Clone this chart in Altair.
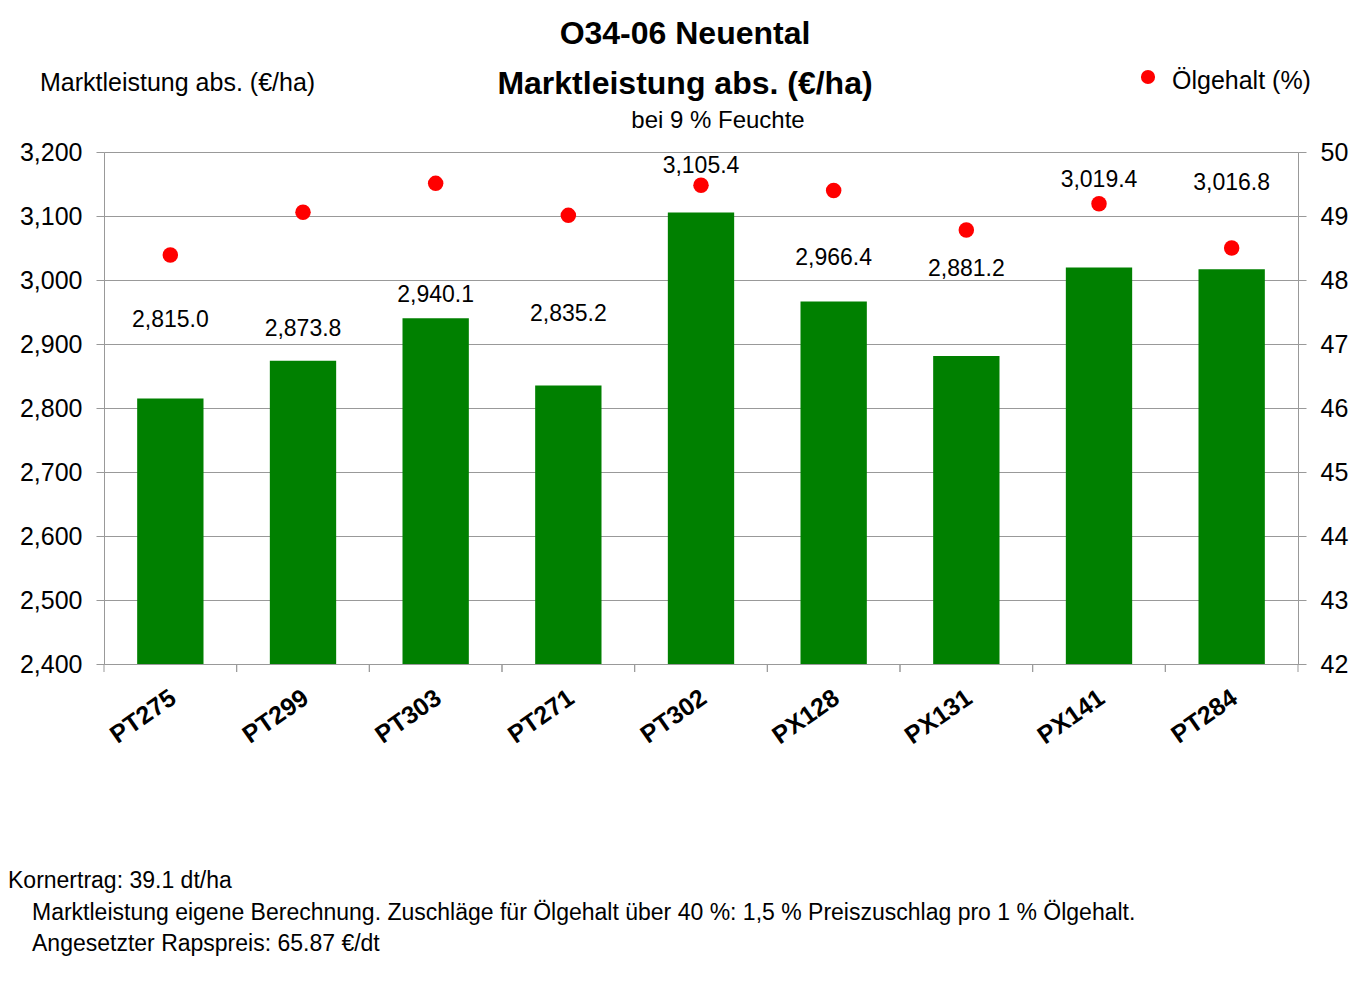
import altair as alt
import pandas as pd

# ---- data ----
sorten = ["PT275", "PT299", "PT303", "PT271", "PT302", "PX128", "PX131", "PX141", "PT284"]
marktleistung = [2815.0, 2873.8, 2940.1, 2835.2, 3105.4, 2966.4, 2881.2, 3019.4, 3016.8]
oelgehalt = [48.39, 49.06, 49.51, 49.01, 49.48, 49.40, 48.78, 49.19, 48.50]
left_ticks = [2400, 2500, 2600, 2700, 2800, 2900, 3000, 3100, 3200]
right_ticks = [42, 43, 44, 45, 46, 47, 48, 49, 50]

title1 = "O34-06 Neuental"
title2 = "Marktleistung abs. (€/ha)"
subtitle = "bei 9 % Feuchte"
left_title = "Marktleistung abs. (€/ha)"
legend_label = "Ölgehalt (%)"
notes = [
    "Kornertrag: 39.1 dt/ha",
    "Marktleistung eigene Berechnung. Zuschläge für Ölgehalt über 40 %: 1,5 % Preiszuschlag pro 1 % Ölgehalt.",
    "Angesetzter Rapspreis: 65.87 €/dt",
]

# ---- layout (label placement above the bars, in €/ha, as in the original) ----
label_offset = [122, 50, 37, 112, 72, 68, 136, 137, 134]

FONT = "Liberation Sans"
GRAY = "#999999"
W, H = 1194, 512

df = pd.DataFrame({"Sorte": sorten, "Marktleistung": marktleistung,
                   "Oel": oelgehalt, "off": label_offset})

yL = alt.Scale(domain=[left_ticks[0], left_ticks[-1]], nice=False, zero=False)
yR = alt.Scale(domain=[right_ticks[0], right_ticks[-1]], nice=False, zero=False)

x_enc = alt.X(
    "Sorte:N", sort=sorten,
    scale=alt.Scale(paddingInner=0, paddingOuter=0),
    axis=alt.Axis(title=None, labelAngle=-35, labelFont=FONT, labelFontSize=25,
                  labelFontWeight="bold", labelColor="black", ticks=False, tickSize=0,
                  labelPadding=21, labelOffset=-4, domainColor=GRAY, labelAlign="right",
                  labelBaseline="top"),
)

base = alt.Chart(df)

bars = base.mark_bar(color="#008000", width=alt.RelativeBandSize(0.5), clip=True).encode(
    x=x_enc,
    y=alt.Y("Marktleistung:Q", scale=yL,
            axis=alt.Axis(title=None, values=left_ticks, format=",d", grid=True,
                          gridColor=GRAY, domainColor=GRAY, tickColor=GRAY, tickSize=8,
                          labelPadding=14, labelFont=FONT, labelFontSize=25,
                          labelColor="black", labelFlush=False, labelOverlap=False,
                          orient="left")),
)

labels = base.transform_calculate(lp="datum.Marktleistung + datum.off").mark_text(
    font=FONT, fontSize=23, color="black", baseline="middle", align="center"
).encode(
    x=alt.X("Sorte:N", sort=sorten),
    y=alt.Y("lp:Q", scale=yL, title=None),
    text=alt.Text("Marktleistung:Q", format=",.1f"),
)

ticks0 = base.mark_rule(color=GRAY, strokeWidth=1).encode(
    x=alt.X("Sorte:N", sort=sorten, bandPosition=0),
    y=alt.value(H), y2=alt.value(H + 8),
)
ticks1 = base.mark_rule(color=GRAY, strokeWidth=1).encode(
    x=alt.X("Sorte:N", sort=sorten, bandPosition=1),
    y=alt.value(H), y2=alt.value(H + 8),
)


def txt(text, x, y, size, weight="normal", align="left"):
    return alt.Chart(pd.DataFrame({"t": [text]})).mark_text(
        font=FONT, fontSize=size, fontWeight=weight, color="black",
        align=align, baseline="middle"
    ).encode(text="t:N", x=alt.value(x), y=alt.value(y))


texts = [
    txt(title1, 581, -118, 32, "bold", "center"),
    txt(title2, 581, -68, 32, "bold", "center"),
    txt(subtitle, 614, -31, 24, "normal", "center"),
    txt(left_title, -64, -69, 25),
    txt(legend_label, 1068, -71, 25),
    txt(notes[0], -96, 729, 23),
    txt(notes[1], -72, 761, 23),
    txt(notes[2], -72, 792, 23),
]

legend_dot = alt.Chart(pd.DataFrame({"t": [legend_label]})).mark_point(
    filled=True, color="#ff0000", size=200, opacity=1, shape="circle"
).encode(x=alt.value(1044), y=alt.value(-75))

inner = alt.layer(bars, labels, ticks0, ticks1, legend_dot, *texts)

dots = base.mark_point(filled=True, color="#ff0000", size=240, opacity=1, shape="circle").encode(
    x=alt.X("Sorte:N", sort=sorten),
    y=alt.Y("Oel:Q", scale=yR,
            axis=alt.Axis(title=None, orient="right", values=right_ticks, format="d",
                          grid=False, domainColor=GRAY, tickColor=GRAY, tickSize=8,
                          labelPadding=14, labelFont=FONT, labelFontSize=25,
                          labelColor="black", labelFlush=False, labelOverlap=False)),
)

chart = alt.layer(inner, dots).resolve_scale(y="independent").properties(
    width=W, height=H,
    padding={"left": 96, "top": 144, "right": 57, "bottom": 314},
    autosize=alt.AutoSizeParams(type="none"),
).configure_view(stroke=None).configure(background="white")

chart.save("out.html", embed_options={"renderer": "svg", "actions": False})
